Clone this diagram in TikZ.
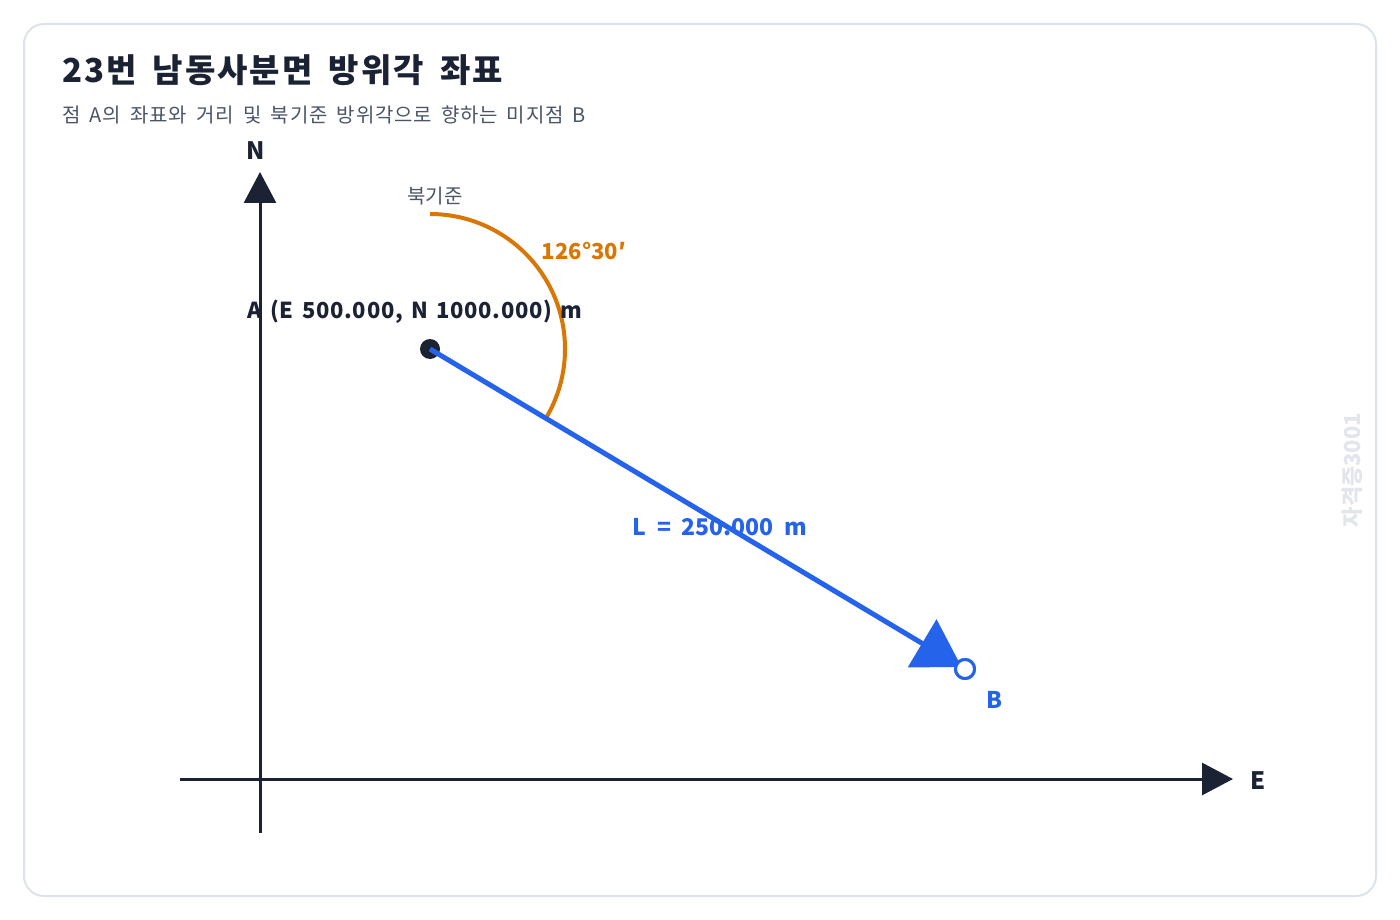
\documentclass[tikz,border=0pt]{standalone}
\usepackage{fontspec}
\setmainfont{Noto Sans CJK KR}
\newfontfamily\titlefont{Noto Sans CJK KR}[LetterSpace=6,WordSpace=1.7]
\newfontfamily\subfont{Noto Sans CJK KR}[LetterSpace=3.5,WordSpace=1.8]
\newfontfamily\afont{Noto Sans CJK KR}[LetterSpace=3,WordSpace=1.5]
\newfontfamily\lfont{Noto Sans CJK KR}[WordSpace=2]
\usetikzlibrary{arrows.meta}
\definecolor{ink}{HTML}{1A2233}
\definecolor{cardline}{HTML}{DDE3EA}
\definecolor{subgray}{HTML}{4A5568}
\definecolor{azblue}{HTML}{2563EB}
\definecolor{azorange}{HTML}{D97706}
\definecolor{wmark}{HTML}{E2E6EC}
\tikzset{
  axisline/.style={draw=ink, line width=3pt, -{Triangle[length=31pt,width=32pt]}},
  axislabel/.style={text=ink, font=\fontsize{24}{28}\selectfont\bfseries, inner sep=0pt},
  ptA/.style={circle, fill=ink, minimum size=20pt, inner sep=0pt},
  ptB/.style={circle, draw=azblue, fill=white, line width=3pt, minimum size=19pt, inner sep=0pt},
  vecline/.style={draw=azblue, line width=5pt, -{Triangle[length=46pt,width=55pt]}, shorten >=4pt},
  anglearc/.style={draw=azorange, line width=4pt},
}
\begin{document}
\begin{tikzpicture}[x=1pt,y=-1pt]
\useasboundingbox (0,0) rectangle (1400,920);
\fill[white] (0,0) rectangle (1400,920);
\draw[cardline, line width=2pt, rounded corners=20pt] (24,24) rectangle (1376,896);

\node[anchor=base west, inner sep=0pt, text=ink, font=\titlefont\fontsize{33}{38}\selectfont\bfseries] (title) at (62,83) {23번 남동사분면 방위각 좌표};
\node[anchor=base west, inner sep=0pt, text=subgray, font=\subfont\fontsize{20}{24}\selectfont] (subtitle) at (62,123) {점 A의 좌표와 거리 및 북기준 방위각으로 향하는 미지점 B};

% axes
\coordinate (nbot) at (260,833);
\coordinate (ntop) at (260,172);
\coordinate (eleft) at (180,779);
\coordinate (eright) at (1233,779);
\draw[axisline] (nbot) -- (ntop);
\draw[axisline] (eleft) -- (eright);
\node[axislabel] (nlab) at (256,151) {N};
\node[axislabel] (elab) at (1258,781) {E};

% points
\node[ptA] (A) at (430,349) {};
\node[ptB] (B) at (965,669) {};

% azimuth arc
\coordinate (north) at (430,214);
\draw[anglearc] (north) arc[start angle=-90, end angle=30.9, radius=135];
\node[text=subgray, font=\fontsize{20}{23}\selectfont, inner sep=0pt] (nref) at (435,196) {북기준};
\node[text=azorange, font=\fontsize{22}{26}\selectfont\bfseries, inner sep=0pt] (ang) at (584,251) {126°30′};

% vector
\draw[vecline] (A.center) -- (B.center);
\node[ptB] (B2) at (B) {};

\node[text=ink, font=\afont\fontsize{22}{26}\selectfont\bfseries, inner sep=0pt] (alab) at (415,312) {A (E 500.000, N 1000.000) m};
\node[text=azblue, font=\lfont\fontsize{23}{27}\selectfont\bfseries, inner sep=0pt] (llab) at (720,527) {L = 250.000 m};
\node[text=azblue, font=\fontsize{23}{27}\selectfont\bfseries, inner sep=0pt] (blab) at (994,700) {B};

\node[text=wmark, rotate=90, font=\fontsize{22}{26}\selectfont\bfseries, inner sep=0pt] (wm) at (1352,470) {자격증3001};
\end{tikzpicture}
\end{document}
